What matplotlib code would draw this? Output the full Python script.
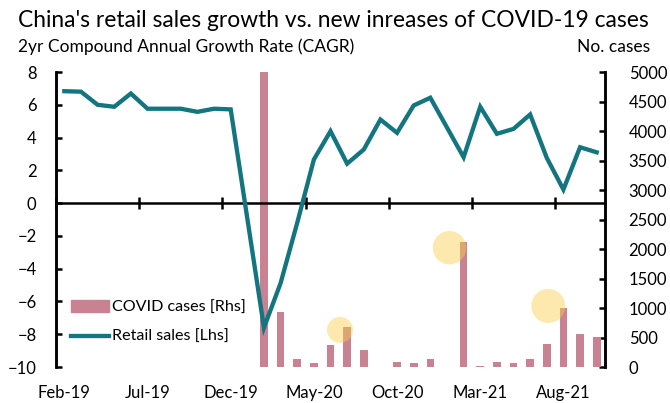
import numpy as np
import matplotlib.pyplot as plt
from matplotlib.lines import Line2D
from matplotlib.patches import Patch

plt.rcParams['font.family'] = ['Lato', 'DejaVu Sans']

months = ['Feb-19', 'Mar-19', 'Apr-19', 'May-19', 'Jun-19', 'Jul-19', 'Aug-19',
          'Sep-19', 'Oct-19', 'Nov-19', 'Dec-19', 'Jan-20', 'Feb-20', 'Mar-20',
          'Apr-20', 'May-20', 'Jun-20', 'Jul-20', 'Aug-20', 'Sep-20', 'Oct-20',
          'Nov-20', 'Dec-20', 'Jan-21', 'Feb-21', 'Mar-21', 'Apr-21', 'May-21',
          'Jun-21', 'Jul-21', 'Aug-21', 'Sep-21', 'Oct-21']

# 2yr CAGR of retail sales (Jan missing, reported together with Feb)
retail = [6.83, 6.80, 6.00, 5.88, 6.69, 5.76, 5.76, 5.76, 5.57, 5.76, 5.72,
          np.nan, -7.60, -4.88, -1.20, 2.66, 4.39, 2.41, 3.27, 5.10, 4.29, 5.96, 6.43,
          np.nan, 2.80, 5.88, 4.23, 4.53, 5.41, 2.76, 0.83, 3.41, 3.10]

# new COVID-19 cases per month
cases = [0, 0, 0, 0, 0, 0, 0, 0, 0, 0, 0,
         0, 79800, 940, 135, 68, 372, 676, 293, 0, 80, 68, 135,
         0, 2120, 22, 90, 68, 135, 389, 997, 557, 501]

# highlighted spots: (month position, cases, marker size)
hl_x = [16.57, 23.15, 29.09]
hl_y = [630, 2022, 1035]
hl_s = [350, 580, 600]

teal = '#137580'
pink = '#c98292'

fig = plt.figure(figsize=(6.7, 4.03), dpi=100)
ax = fig.add_axes([0.0836, 0.0893, 0.8194, 0.732])
ax2 = ax.twinx()
ax.set_zorder(ax2.get_zorder() + 1)
ax.patch.set_visible(False)

x = np.arange(len(months))
r = np.array(retail)
ok = ~np.isnan(r)

ax2.bar(x, cases, width=0.46, color=pink, zorder=2)
ax2.scatter(hl_x, hl_y, s=hl_s, color='#fcd04a', alpha=0.45, edgecolors='none', zorder=3)
ax.plot(x[ok], r[ok], color=teal, lw=3.1, solid_joinstyle='miter', zorder=4)

ax.set_xlim(-0.5, len(months) - 0.5)
ax.set_ylim(-10, 8)
ax.set_yticks(range(-10, 9, 2))
ax2.set_ylim(0, 5000)
ax2.set_yticks(range(0, 5001, 500))

for a in (ax, ax2):
    a.spines['top'].set_visible(False)
    a.spines['bottom'].set_visible(False)
    a.spines['left'].set_linewidth(1.8)
    a.spines['right'].set_linewidth(1.8)

ax.spines['bottom'].set_visible(True)
ax.spines['bottom'].set_position(('data', 0))
ax.spines['bottom'].set_linewidth(1.8)
ax.set_xticks(np.arange(-0.5, len(months), 5))
ax.tick_params(axis='x', direction='inout', length=9, width=1.8, labelbottom=False)
ax.tick_params(axis='y', direction='in', length=4, width=1.8, pad=14, labelsize=12)
ax2.tick_params(axis='y', direction='in', length=4, width=1.8, pad=17, labelsize=12)
ax2.tick_params(axis='x', bottom=False, labelbottom=False)

sec = ax.secondary_xaxis(0.0)
sec.set_xticks(x[::5])
sec.set_xticklabels(months[::5], fontsize=12)
sec.tick_params(length=0, pad=13)
sec.spines['bottom'].set_visible(False)

handles = [Patch(color=pink), Line2D([], [], color=teal, lw=3.1)]
ax.legend(handles, ['COVID cases [Rhs]', 'Retail sales [Lhs]'], loc='upper left',
          bbox_to_anchor=(0.0, 0.275), frameon=False, fontsize=11.6,
          handlelength=2.4, handletextpad=0.15, labelspacing=0.95)

fig.text(0.027, 0.950, "China's retail sales growth vs. new inreases of COVID-19 cases",
         fontsize=16.4, va='center', ha='left')
fig.text(0.027, 0.883, '2yr Compound Annual Growth Rate (CAGR)', fontsize=12.5,
         va='center', ha='left')
fig.text(0.970, 0.883, 'No. cases', fontsize=12.5, va='center', ha='right')

fig.savefig('out.png', dpi=100)
